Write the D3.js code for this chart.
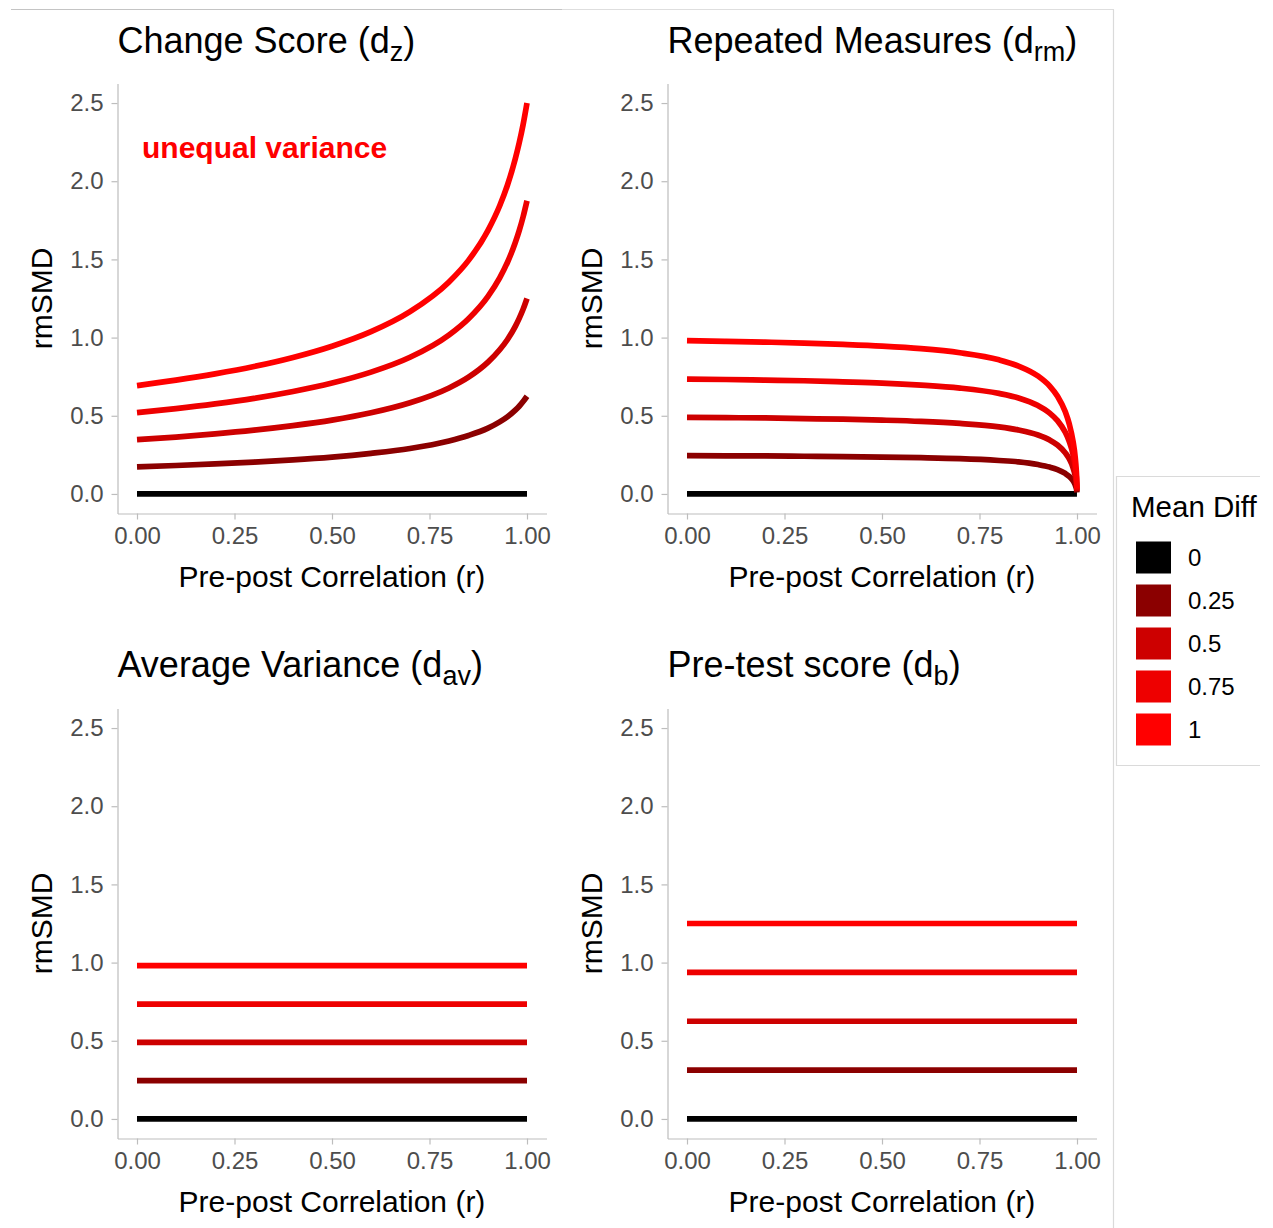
<!DOCTYPE html>
<html>
<head>
<meta charset="utf-8">
<script src="https://cdn.jsdelivr.net/npm/d3@7"></script>
<style>
  html, body { margin: 0; padding: 0; background: #fff; }
  svg { display: block; font-family: "Liberation Sans", Arial, Helvetica, sans-serif; }
</style>
</head>
<body>
<svg id="chart" width="1273" height="1228"></svg>
<script>
// ---------- DATA ----------
const meanDiffLabels = ["0", "0.25", "0.5", "0.75", "1"];
const meanDiffColors = ["#000000", "#8B0000", "#CD0000", "#EE0000", "#FF0000"];
const xTickValues = [0, 0.25, 0.5, 0.75, 1];
const xTickLabels = ["0.00", "0.25", "0.50", "0.75", "1.00"];
const yTickValues = [0, 0.5, 1, 1.5, 2, 2.5];
const yTickLabels = ["0.0", "0.5", "1.0", "1.5", "2.0", "2.5"];

// Change score (dz)
const dzR      = [0, 0.1, 0.2, 0.3, 0.4, 0.5, 0.6, 0.7, 0.8, 0.85, 0.9, 0.93, 0.95, 0.97, 0.98, 0.99, 1.0];
const dzMD0    = [0, 0, 0, 0, 0, 0, 0, 0, 0, 0, 0, 0, 0, 0, 0, 0, 0];
const dzMD025  = [0.173, 0.182, 0.192, 0.204, 0.218, 0.236, 0.260, 0.291, 0.339, 0.374, 0.421, 0.461, 0.494, 0.536, 0.561, 0.591, 0.625];
const dzMD05   = [0.347, 0.364, 0.384, 0.408, 0.437, 0.472, 0.519, 0.583, 0.678, 0.747, 0.843, 0.922, 0.988, 1.072, 1.123, 1.181, 1.250];
const dzMD075  = [0.520, 0.546, 0.576, 0.611, 0.655, 0.709, 0.779, 0.874, 1.017, 1.121, 1.264, 1.382, 1.482, 1.608, 1.684, 1.772, 1.875];
const dzMD1    = [0.693, 0.728, 0.768, 0.815, 0.873, 0.945, 1.038, 1.166, 1.356, 1.494, 1.686, 1.843, 1.976, 2.144, 2.245, 2.362, 2.500];

// Repeated measures (drm)
const drmR     = [0, 0.1, 0.2, 0.3, 0.4, 0.5, 0.6, 0.7, 0.8, 0.85, 0.9, 0.93, 0.95, 0.97, 0.98, 0.99, 0.995, 0.998, 0.999, 0.9999];
const drmMD0   = [0, 0, 0, 0, 0, 0, 0, 0, 0, 0, 0, 0, 0, 0, 0, 0, 0, 0, 0, 0];
const drmMD025 = [0.245, 0.244, 0.243, 0.241, 0.239, 0.236, 0.232, 0.226, 0.214, 0.205, 0.188, 0.172, 0.156, 0.131, 0.112, 0.084, 0.061, 0.039, 0.028, 0.009];
const drmMD05  = [0.490, 0.488, 0.486, 0.482, 0.478, 0.472, 0.464, 0.451, 0.429, 0.409, 0.377, 0.345, 0.313, 0.263, 0.225, 0.167, 0.121, 0.078, 0.056, 0.018];
const drmMD075 = [0.735, 0.732, 0.728, 0.724, 0.717, 0.709, 0.696, 0.677, 0.643, 0.614, 0.565, 0.517, 0.469, 0.394, 0.337, 0.251, 0.182, 0.117, 0.083, 0.026];
const drmMD1   = [0.981, 0.976, 0.971, 0.965, 0.956, 0.945, 0.929, 0.903, 0.858, 0.818, 0.754, 0.690, 0.625, 0.525, 0.449, 0.334, 0.243, 0.156, 0.111, 0.035];

// Average variance (dav)
const davR     = [0, 1];
const davLevels = [0, 0.245, 0.490, 0.735, 0.980];

// Pre-test score (db)
const dbR      = [0, 1];
const dbLevels = [0, 0.3125, 0.625, 0.9375, 1.25];

// ---------- BUILD ----------
const svg = d3.select("#chart");
const FONT_TICK = 24, FONT_AXIS = 30, FONT_TITLE = 36;
const AXIS_COL = "#bdbdbd", TICK_TEXT = "#4d4d4d";

const panels = [
  { title: ["Change Score (d", "z", ")"], left: 117.5, top: 83.5, titleY: 53,
    r: dzR, series: [dzMD0, dzMD025, dzMD05, dzMD075, dzMD1], note: "unequal variance" },
  { title: ["Repeated Measures (d", "rm", ")"], left: 667.5, top: 83.5, titleY: 53,
    r: drmR, series: [drmMD0, drmMD025, drmMD05, drmMD075, drmMD1] },
  { title: ["Average Variance (d", "av", ")"], left: 117.5, top: 708.5, titleY: 677,
    r: davR, series: davLevels.map(v => davR.map(() => v)) },
  { title: ["Pre-test score (d", "b", ")"], left: 667.5, top: 708.5, titleY: 677,
    r: dbR, series: dbLevels.map(v => dbR.map(() => v)) }
];
const PW = 429, PH = 430;

// light frame lines (figure borders)
svg.append("line").attr("x1", 11).attr("x2", 562).attr("y1", 9.5).attr("y2", 9.5)
  .attr("stroke", "#c4c4c4").attr("stroke-width", 1.2);
svg.append("line").attr("x1", 562).attr("x2", 1114).attr("y1", 9.5).attr("y2", 9.5)
  .attr("stroke", "#dedede").attr("stroke-width", 1.2);
svg.append("line").attr("x1", 1113.5).attr("x2", 1113.5).attr("y1", 9.5).attr("y2", 1228)
  .attr("stroke", "#dadada").attr("stroke-width", 1.2);

panels.forEach(p => {
  const x = d3.scaleLinear().domain([-0.05, 1.05]).range([p.left, p.left + PW]);
  const y = d3.scaleLinear().domain([-0.125, 2.625]).range([p.top + PH, p.top]);
  const g = svg.append("g");

  // axes
  const ax = g.append("g").attr("transform", `translate(0,${p.top + PH})`)
    .call(d3.axisBottom(x).tickValues(xTickValues).tickFormat((d, i) => xTickLabels[i])
      .tickSize(6).tickSizeOuter(0).tickPadding(7));
  const ay = g.append("g").attr("transform", `translate(${p.left},0)`)
    .call(d3.axisLeft(y).tickValues(yTickValues).tickFormat((d, i) => yTickLabels[i])
      .tickSize(6).tickSizeOuter(0).tickPadding(8));
  [ax, ay].forEach(a => {
    a.select(".domain").attr("stroke", AXIS_COL).attr("stroke-width", 1.2);
    a.selectAll(".tick line").attr("stroke", AXIS_COL).attr("stroke-width", 1.2);
    a.selectAll(".tick text").attr("fill", TICK_TEXT)
      .style("font-size", FONT_TICK + "px")
      .style("font-family", '"Liberation Sans", Arial, Helvetica, sans-serif');
  });

  // lines
  const line = d3.line().x(d => x(d[0])).y(d => y(d[1])).curve(d3.curveMonotoneX);
  p.series.forEach((vals, i) => {
    g.append("path")
      .datum(p.r.map((rv, j) => [rv, vals[j]]))
      .attr("d", line)
      .attr("fill", "none")
      .attr("stroke", meanDiffColors[i])
      .attr("stroke-width", 5.7)
      .attr("stroke-linecap", "butt")
      .attr("stroke-linejoin", "round");
  });

  // title
  const t = g.append("text").attr("x", p.left).attr("y", p.titleY)
    .attr("fill", "#000").style("font-size", FONT_TITLE + "px");
  t.append("tspan").text(p.title[0]);
  t.append("tspan").attr("dy", 8).style("font-size", "27px").text(p.title[1]);
  t.append("tspan").attr("dy", -8).text(p.title[2]);

  // axis titles
  g.append("text").attr("x", x(0.5)).attr("y", p.top + PH + 73)
    .attr("text-anchor", "middle").style("font-size", FONT_AXIS + "px").attr("fill", "#000")
    .text("Pre-post Correlation (r)");
  g.append("text")
    .attr("transform", `translate(${p.left - 66},${p.top + PH / 2}) rotate(-90)`)
    .attr("text-anchor", "middle").style("font-size", FONT_AXIS + "px").attr("fill", "#000")
    .text("rmSMD");

  if (p.note) {
    g.append("text").attr("x", 142).attr("y", 158)
      .attr("fill", "#FF0000").style("font-weight", "bold").style("font-size", "30px")
      .text(p.note);
  }
});

// ---------- LEGEND ----------
const lg = svg.append("g");
lg.append("path")
  .attr("d", "M1260,476.5 H1116.5 V765.5 H1260")
  .attr("fill", "none").attr("stroke", "#dadada").attr("stroke-width", 1.2);
lg.append("text").attr("x", 1131).attr("y", 517)
  .style("font-size", "29.5px").attr("fill", "#000").text("Mean Diff");
meanDiffLabels.forEach((lab, i) => {
  const ky = 541.5 + i * 43;
  lg.append("rect").attr("x", 1136).attr("y", ky).attr("width", 35).attr("height", 32)
    .attr("fill", meanDiffColors[i]);
  lg.append("text").attr("x", 1188).attr("y", ky + 16 + 8.5)
    .style("font-size", "24px").attr("fill", "#000").text(lab);
});
</script>
</body>
</html>
